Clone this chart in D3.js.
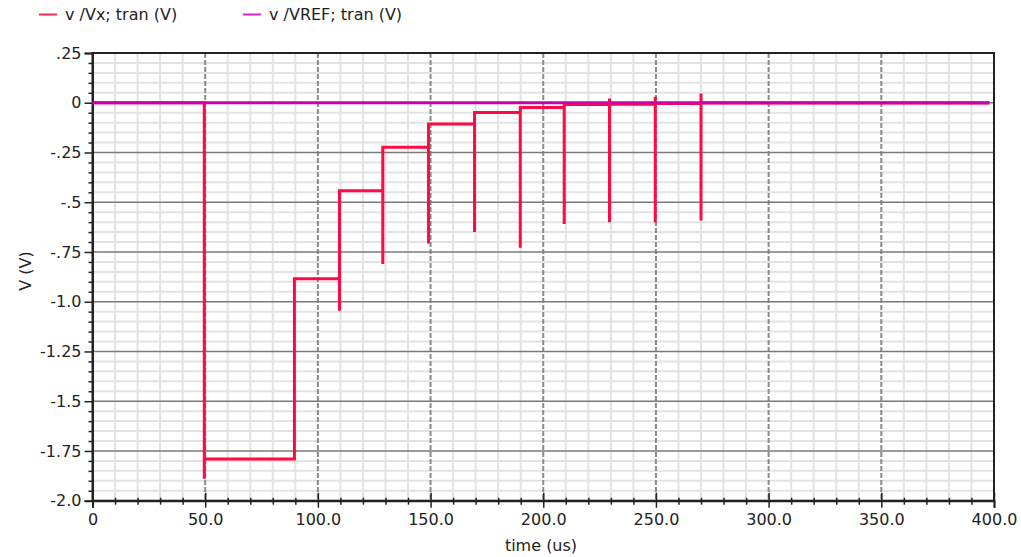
<!DOCTYPE html>
<html>
<head>
<meta charset="utf-8">
<script src="https://cdn.jsdelivr.net/npm/d3@7"></script>
<style>
  html, body { margin: 0; padding: 0; background: #ffffff; }
  svg { display: block; font-family: "DejaVu Sans", Verdana, sans-serif; }
</style>
</head>
<body>
<svg id="chart" width="1021" height="557"></svg>
<script>
// Transient of v(Vx): successive approximation steps with switching spikes
const stepTime  = [49.6, 89.6, 109.6, 128.8, 149.1, 169.5, 189.8, 209.3, 229.4, 249.7, 270.0];
const stepLevel = [-1.79, -0.885, -0.442, -0.224, -0.107, -0.0485, -0.0235, -0.009, -0.008, -0.004, -0.001];
const spikeLow  = [-1.89, -1.79, -1.045, -0.81, -0.707, -0.649, -0.729, -0.609, -0.6, -0.6, -0.592];
const spikeHigh = [-1.79, -0.885, -0.442, -0.224, -0.107, -0.0485, -0.0235, -0.009, 0.021, 0.03, 0.047];
const vxStart = 0;
const vxEndTime = 398;

// Reference voltage stays at 0 V
const vrefTime  = [0, 398];
const vrefValue = [0, 0];

// Axis ticks
const xTicks = [0, 50, 100, 150, 200, 250, 300, 350, 400];
const xTickLabels = ["0", "50.0", "100.0", "150.0", "200.0", "250.0", "300.0", "350.0", "400.0"];
const yTicks = [0.25, 0, -0.25, -0.5, -0.75, -1.0, -1.25, -1.5, -1.75, -2.0];
const yTickLabels = [".25", "0", "-.25", "-.5", "-.75", "-1.0", "-1.25", "-1.5", "-1.75", "-2.0"];

const seriesNames = ["v /Vx; tran (V)", "v /VREF; tran (V)"];
const seriesColors = ["#ff0a45", "#cc00aa"];

const svg = d3.select("#chart");
const plotL = 92.5, plotR = 994, plotT = 53, plotB = 500.7;

const x = d3.scaleLinear().domain([0, 400]).range([plotL, plotR]);
const y = d3.scaleLinear().domain([-2, 0.25]).range([plotB, plotT]);

// Minor grid
const minorX = d3.range(10, 400, 10).filter(v => v % 50 !== 0);
const minorY = d3.range(-1.95, 0.25, 0.05).map(v => +v.toFixed(2)).filter(v => Math.abs(Math.round(v * 4) - v * 4) > 1e-6);

const grid = svg.append("g");
grid.selectAll(".mx").data(minorX).join("line")
  .attr("x1", d => x(d)).attr("x2", d => x(d))
  .attr("y1", plotT).attr("y2", plotB)
  .attr("stroke", "#e3e3e3").attr("stroke-width", 2);
grid.selectAll(".my").data(minorY).join("line")
  .attr("x1", plotL).attr("x2", plotR)
  .attr("y1", d => y(d)).attr("y2", d => y(d))
  .attr("stroke", "#e3e3e3").attr("stroke-width", 2);

// Major grid
grid.selectAll(".Mx").data(xTicks.slice(1, -1)).join("line")
  .attr("x1", d => x(d)).attr("x2", d => x(d))
  .attr("y1", plotT).attr("y2", plotB)
  .attr("stroke", "#8a8a8a").attr("stroke-width", 2)
  .attr("stroke-dasharray", "5,2");
grid.selectAll(".My").data(yTicks.slice(1, -1)).join("line")
  .attr("x1", plotL).attr("x2", plotR)
  .attr("y1", d => y(d)).attr("y2", d => y(d))
  .attr("stroke", "#7a7a7a").attr("stroke-width", 1.5);

// Frame
svg.append("rect")
  .attr("x", plotL).attr("y", plotT)
  .attr("width", plotR - plotL).attr("height", plotB - plotT)
  .attr("fill", "none").attr("stroke", "#222").attr("stroke-width", 2);

// Y axis
const yAxis = d3.axisLeft(y)
  .tickValues(yTicks)
  .tickFormat((d, i) => yTickLabels[i])
  .tickSize(8).tickPadding(3);
const gy = svg.append("g").attr("transform", `translate(${plotL},0)`).call(yAxis);
gy.select(".domain").attr("stroke", "#222").attr("stroke-width", 2);
gy.selectAll(".tick line").attr("stroke", "#222").attr("stroke-width", 1.5);
gy.selectAll(".tick text").attr("fill", "#222").style("font-size", "16px")
  .style("font-family", "'DejaVu Sans', sans-serif");
const yMinor = d3.axisLeft(y).tickValues(minorY).tickFormat("").tickSize(4).tickSizeOuter(0);
const gym = svg.append("g").attr("transform", `translate(${plotL},0)`).call(yMinor);
gym.select(".domain").remove();
gym.selectAll(".tick line").attr("stroke", "#222").attr("stroke-width", 1.5);

// X axis
const xAxis = d3.axisBottom(x)
  .tickValues(xTicks)
  .tickFormat((d, i) => xTickLabels[i])
  .tickSize(7).tickPadding(6);
const gx = svg.append("g").attr("transform", `translate(0,${plotB})`).call(xAxis);
gx.select(".domain").attr("stroke", "#222").attr("stroke-width", 2);
gx.selectAll(".tick line").attr("stroke", "#222").attr("stroke-width", 1.5).attr("y1", -8);
gx.selectAll(".tick text").attr("fill", "#222").style("font-size", "16px")
  .style("font-family", "'DejaVu Sans', sans-serif");
const xMinor = d3.axisBottom(x).tickValues(minorX).tickFormat("").tickSize(4).tickSizeOuter(0);
const gxm = svg.append("g").attr("transform", `translate(0,${plotB})`).call(xMinor);
gxm.select(".domain").remove();
gxm.selectAll(".tick line").attr("stroke", "#222").attr("stroke-width", 1.5).attr("y1", -3);

// Axis titles
svg.append("text")
  .attr("x", 541).attr("y", 551)
  .attr("text-anchor", "middle")
  .attr("fill", "#222").style("font-size", "16px")
  .text("time (us)");
svg.append("text")
  .attr("transform", "translate(31,271) rotate(-90)")
  .attr("text-anchor", "middle")
  .attr("fill", "#222").style("font-size", "16px")
  .text("V (V)");

// Build the Vx waveform from the step arrays
const vxPts = [[0, vxStart]];
let prev = vxStart;
stepTime.forEach((t, i) => {
  vxPts.push([t, prev]);
  vxPts.push([t, spikeLow[i]]);
  vxPts.push([t, spikeHigh[i]]);
  vxPts.push([t, stepLevel[i]]);
  prev = stepLevel[i];
});
vxPts.push([vxEndTime, prev]);

const line = d3.line().x(d => x(d[0])).y(d => y(d[1]));

const plot = svg.append("g");
plot.append("path")
  .datum(vxPts)
  .attr("d", line)
  .attr("fill", "none")
  .attr("stroke", seriesColors[0])
  .attr("stroke-width", 3)
  .attr("stroke-linejoin", "miter");

plot.append("path")
  .datum(vrefTime.map((t, i) => [t, vrefValue[i]]))
  .attr("d", line)
  .attr("fill", "none")
  .attr("stroke", seriesColors[1])
  .attr("stroke-width", 3);

// Legend
const legendX = [39, 243];
const legend = svg.append("g");
seriesNames.forEach((name, i) => {
  legend.append("line")
    .attr("x1", legendX[i]).attr("x2", legendX[i] + 18)
    .attr("y1", 14.5).attr("y2", 14.5)
    .attr("stroke", i === 0 ? "#ff2a5a" : "#e01ec8").attr("stroke-width", 2);
  legend.append("text")
    .attr("x", legendX[i] + 26).attr("y", 20)
    .attr("fill", "#222").style("font-size", "16px")
    .text(name);
});
</script>
</body>
</html>
